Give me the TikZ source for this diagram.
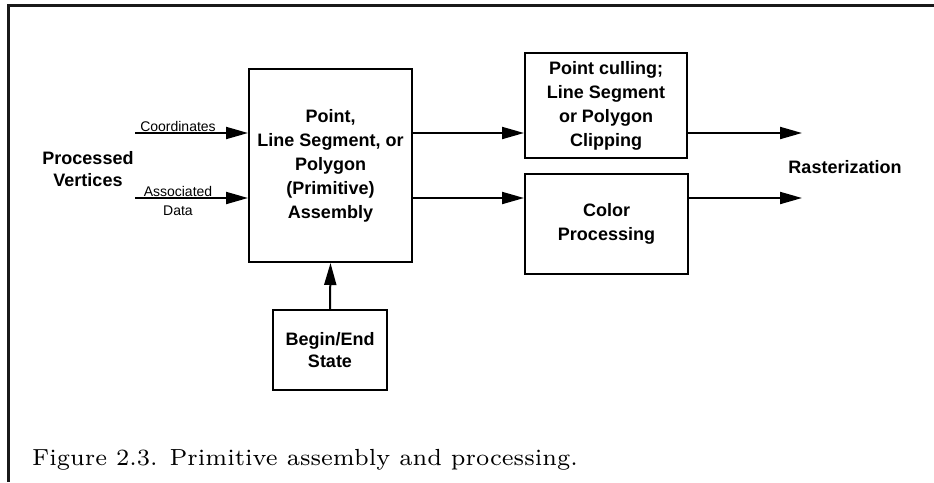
\documentclass[tikz,border=0pt]{standalone}
\usepackage{fontspec}
\newfontfamily\arial{Liberation Sans}
\newfontfamily\capfont{lmroman7-regular.otf}
\usetikzlibrary{arrows.meta}
\begin{document}
\begin{tikzpicture}[x=1pt,y=-1pt,
  box/.style={draw=black,line width=2pt,rectangle,inner sep=0pt,align=center,
    font=\arial\bfseries\fontsize{18}{24}\selectfont},
  arr/.style={line width=2pt,-{Triangle[length=22pt,width=12pt]}},
  small/.style={inner sep=0pt,font=\arial\fontsize{14}{16}\selectfont},
  big/.style={inner sep=0pt,align=center,font=\arial\bfseries\fontsize{18}{22}\selectfont},
  frame/.style={line width=3pt,draw=black!90}]
\useasboundingbox (0,0) rectangle (934,482);
\draw[frame] (934,5) -- (8,5) -- (8,482);
\node[box,minimum width=163pt,minimum height=193pt] (main) at (330.5,165.5)
  {Point,\\Line Segment, or\\Polygon\\(Primitive)\\Assembly};
\node[box,minimum width=162pt,minimum height=105pt] (clip) at (606,105.5)
  {Point culling;\\Line Segment\\or Polygon\\Clipping};
\node[box,minimum width=163pt,minimum height=100pt] (color) at (606.5,224)
  {Color\\Processing};
\node[box,minimum width=114pt,minimum height=80pt,
  font=\arial\bfseries\fontsize{18}{22}\selectfont] (state) at (330,350)
  {Begin/End\\State};
\node[big] (pv) at (88,169) {Processed\\Vertices};
\node[big] (rast) at (845,167) {Rasterization};
\coordinate (cin) at (135,133);
\coordinate (ain) at (135,198);
\coordinate (cout) at (802,133);
\coordinate (dout) at (802,198);
\node[small] (coord) at (178,126) {Coordinates};
\node[small] (assoc) at (178,191) {Associated};
\node[small] (data) at (178,211) {Data};
\draw[arr] (cin) -- (cin -| main.west);
\draw[arr] (ain) -- (ain -| main.west);
\draw[arr] (cin -| main.east) -- (cin -| clip.west);
\draw[arr] (ain -| main.east) -- (ain -| color.west);
\draw[arr] (cout -| clip.east) -- (cout);
\draw[arr] (dout -| color.east) -- (dout);
\draw[arr] (state.north) -- (main.south);
\node[anchor=base west,inner sep=0pt,font=\capfont\fontsize{23.3}{28}\selectfont] (cap) at (32,465)
  {Figure 2.3. Primitive assembly and processing.};
\end{tikzpicture}
\end{document}
